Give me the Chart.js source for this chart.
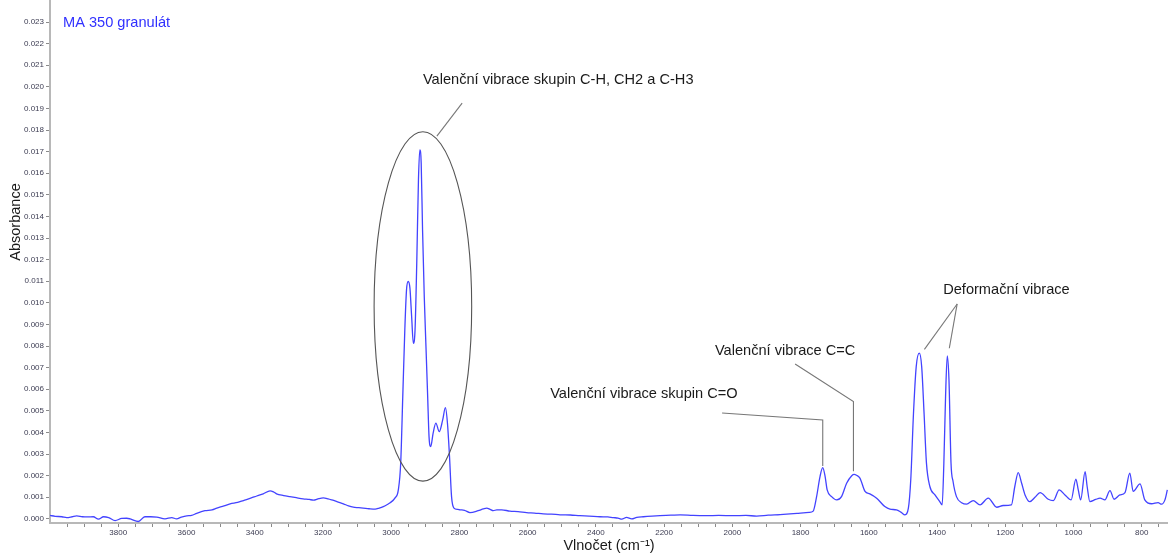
<!DOCTYPE html>
<html><head><meta charset="utf-8">
<script src="https://cdn.jsdelivr.net/npm/chart.js@4/dist/chart.umd.min.js"></script>
<style>html,body{margin:0;padding:0;background:#fff;}#wrap{width:1168px;height:555px;}</style>
</head><body><div id="wrap"><canvas id="c" width="1168" height="555"></canvas></div>
<script>
const wavenumbers = [
4000,3985,3965,3951,3935,3922,3905,3890,3873,3858,3843,3828,3809,3790,3775,3765,3741,3722,3705,3687,
3663,3643,3629,3615,3599,3585,3570,3546,3525,3511,3490,3472,3450,3433,3410,3394,3375,3355,3345,3336,
3315,3297,3278,3258,3240,3228,3212,3199,3185,3174,3155,3140,3125,3111,3095,3082,3065,3047,3035,3023,
3010,3003,2989,2979,2972,2966,2960,2955,2950,2945,2940,2935,2930,2925,2920,2916,2912,2908,2903,2898,
2893,2889,2884,2877,2869,2859,2849,2841,2835,2829,2823,2816,2805,2798,2785,2769,2745,2730,2720,2710,
2701,2690,2676,2652,2628,2603,2580,2554,2530,2505,2475,2447,2420,2388,2365,2349,2335,2324,2310,2295,
2280,2261,2235,2212,2180,2153,2115,2075,2040,1997,1960,1929,1895,1860,1831,1807,1792,1775,1763,1753,
1743,1735,1728,1722,1709,1694,1680,1665,1650,1643,1636,1626,1611,1597,1577,1553,1538,1519,1505,1494,
1484,1477,1469,1461,1452,1445,1438,1431,1421,1406,1392,1385,1380,1375,1370,1365,1359,1353,1343,1328,
1313,1294,1274,1250,1225,1206,1182,1172,1162,1152,1142,1128,1113,1098,1074,1059,1042,1025,1007,993,
986,979,966,960,952,935,922,908,893,881,864,849,835,825,805,791,771,752,742,732,725];
const absorbance = [
0.00016,0.00012,0.00010,0.00006,0.00010,0.00014,0.00010,0.00009,0.00010,-0.00001,0.00010,0.00006,-0.00008,0.00002,0.00003,0.00000,-0.00012,0.00010,0.00010,0.00008,
0.00000,0.00006,0.00000,0.00008,0.00014,0.00016,0.00026,0.00038,0.00042,0.00050,0.00060,0.00070,0.00076,0.00085,0.00097,0.00106,0.00116,0.00130,0.00125,0.00116,
0.00108,0.00103,0.00098,0.00093,0.00090,0.00087,0.00094,0.00097,0.00093,0.00088,0.00078,0.00070,0.00060,0.00054,0.00052,0.00050,0.00047,0.00045,0.00050,0.00057,
0.00068,0.00075,0.00096,0.00134,0.00260,0.00566,0.00875,0.01060,0.01099,0.01068,0.00937,0.00813,0.00875,0.01184,0.01570,0.01708,0.01647,0.01338,0.01029,0.00798,
0.00566,0.00381,0.00335,0.00397,0.00443,0.00404,0.00458,0.00515,0.00443,0.00290,0.00103,0.00050,0.00044,0.00042,0.00040,0.00029,0.00038,0.00046,0.00050,0.00044,
0.00038,0.00042,0.00042,0.00036,0.00034,0.00029,0.00027,0.00023,0.00022,0.00019,0.00018,0.00015,0.00013,0.00010,0.00009,0.00006,0.00004,-0.00001,0.00007,0.00000,
0.00007,0.00010,0.00013,0.00015,0.00017,0.00019,0.00016,0.00015,0.00016,0.00015,0.00016,0.00013,0.00017,0.00020,0.00023,0.00026,0.00028,0.00030,0.00036,0.00103,
0.00196,0.00237,0.00196,0.00134,0.00103,0.00088,0.00103,0.00165,0.00200,0.00206,0.00202,0.00189,0.00127,0.00116,0.00096,0.00057,0.00045,0.00042,0.00030,0.00019,
0.00050,0.00181,0.00489,0.00705,0.00767,0.00705,0.00489,0.00258,0.00150,0.00111,0.00080,0.00065,0.00258,0.00566,0.00755,0.00644,0.00258,0.00173,0.00103,0.00075,
0.00068,0.00085,0.00065,0.00096,0.00054,0.00062,0.00065,0.00150,0.00214,0.00165,0.00111,0.00080,0.00100,0.00122,0.00091,0.00085,0.00134,0.00111,0.00088,0.00184,
0.00134,0.00088,0.00219,0.00150,0.00080,0.00090,0.00096,0.00088,0.00131,0.00091,0.00111,0.00122,0.00212,0.00127,0.00162,0.00088,0.00070,0.00075,0.00068,0.00088,0.00134];

const yTickValues = [0,0.001,0.002,0.003,0.004,0.005,0.006,0.007,0.008,0.009,0.010,0.011,0.012,0.013,0.014,0.015,0.016,0.017,0.018,0.019,0.020,0.021,0.022,0.023];
const xTickValues = [];
for (let v = 3950; v >= 750; v -= 50) xTickValues.push(v);
const xLabelStep = 200;

const seriesLabel = 'MA 350 granulát';
const xTitle = 'Vlnočet (cm⁻¹)';
const yTitle = 'Absorbance';

// annotation texts and anchors in data units [wavenumber, absorbance]
const annotTexts = [
  {text: 'Valenční vibrace skupin C-H, CH2 a C-H3', at: [2907, 0.02032]},
  {text: 'Valenční vibrace C=C', at: [2051, 0.00777]},
  {text: 'Valenční vibrace skupin C=O', at: [2534, 0.00578]},
  {text: 'Deformační vibrace', at: [1382, 0.01060]}
];
const annotLines = [
  [[2866, 0.01772], [2792, 0.01925]],
  [[2030, 0.00490], [1735, 0.00458], [1735, 0.00245]],
  [[1816, 0.00717], [1645, 0.00543], [1645, 0.00220]],
  [[1341, 0.00995], [1437, 0.00785]],
  [[1341, 0.00995], [1364, 0.00790]]
];
const annotEllipse = {wnLeft: 3050, wnRight: 2764, aTop: 0.01792, aBottom: 0.00175};

const points = wavenumbers.map((w, i) => ({x: w, y: absorbance[i]}));

const annotPlugin = {
  id: 'annot',
  afterDatasetsDraw(chart) {
    const {ctx, scales: {x, y}, chartArea} = chart;
    ctx.save();
    const l = x.getPixelForValue(annotEllipse.wnLeft), r = x.getPixelForValue(annotEllipse.wnRight);
    const t = y.getPixelForValue(annotEllipse.aTop), b = y.getPixelForValue(annotEllipse.aBottom);
    ctx.strokeStyle = '#555';
    ctx.lineWidth = 1.1;
    ctx.beginPath();
    ctx.ellipse((l + r) / 2, (t + b) / 2, Math.abs(r - l) / 2, Math.abs(b - t) / 2, 0, 0, Math.PI * 2);
    ctx.stroke();
    ctx.strokeStyle = '#777';
    ctx.lineWidth = 1.1;
    annotLines.forEach(pts => {
      ctx.beginPath();
      pts.forEach((p, i) => {
        const px = x.getPixelForValue(p[0]), py = y.getPixelForValue(p[1]);
        if (i === 0) ctx.moveTo(px, py); else ctx.lineTo(px, py);
      });
      ctx.stroke();
    });
    ctx.fillStyle = '#1a1a1a';
    ctx.font = '14.6px "Liberation Sans", Arial, sans-serif';
    ctx.textAlign = 'left';
    ctx.textBaseline = 'middle';
    annotTexts.forEach(a => {
      ctx.fillText(a.text, x.getPixelForValue(a.at[0]), y.getPixelForValue(a.at[1]));
    });
    ctx.fillStyle = '#3030ff';
    ctx.font = '14.6px "Liberation Sans", Arial, sans-serif';
    ctx.fillText(seriesLabel, chartArea.left + 13, chartArea.top + 23);
    ctx.fillStyle = '#1a1a1a';
    ctx.font = '14.5px "Liberation Sans", Arial, sans-serif';
    ctx.translate(16, 222);
    ctx.rotate(-Math.PI / 2);
    ctx.textAlign = 'center';
    ctx.fillText(yTitle, 0, 0);
    ctx.restore();
  }
};

new Chart(document.getElementById('c'), {
  type: 'line',
  data: {datasets: [{
    label: seriesLabel,
    data: points,
    borderColor: '#4343ff',
    borderWidth: 1.3,
    pointRadius: 0,
    cubicInterpolationMode: 'monotone',
    fill: false
  }]},
  options: {
    responsive: false,
    devicePixelRatio: 1,
    animation: false,
    layout: {padding: 0},
    plugins: {legend: {display: false}, tooltip: {enabled: false}, title: {display: false}},
    scales: {
      x: {
        type: 'linear', reverse: true, min: 723, max: 4000,
        border: {color: '#b8b8b8', width: 2},
        grid: {drawOnChartArea: false, drawTicks: true, tickLength: 4, color: '#8a8a8a'},
        ticks: {autoSkip: false, maxRotation: 0, padding: 1, color: '#3c3c52',
          font: {size: 8, family: '"Liberation Sans", Arial, sans-serif'},
          callback: v => (v % xLabelStep === 0 ? String(v) : '')},
        afterBuildTicks: s => { s.ticks = xTickValues.map(v => ({value: v})); },
        afterFit: s => { s.height = 32; s.paddingLeft = 0; s.paddingRight = 0; },
        title: {display: true, text: xTitle, color: '#1a1a1a', padding: {top: 0, bottom: 0},
          font: {size: 14.5, family: '"Liberation Sans", Arial, sans-serif'}}
      },
      y: {
        type: 'linear', min: -0.00019, max: 0.02402,
        border: {color: '#b8b8b8', width: 2},
        grid: {drawOnChartArea: false, drawTicks: true, tickLength: 4, color: '#8a8a8a'},
        ticks: {padding: 2, color: '#3c3c52',
          font: {size: 8, family: '"Liberation Sans", Arial, sans-serif'},
          callback: v => Number(v).toFixed(3)},
        afterBuildTicks: s => { s.ticks = yTickValues.map(v => ({value: v})); },
        afterFit: s => { s.width = 50; s.paddingTop = 0; s.paddingBottom = 0; }
      }
    }
  },
  plugins: [annotPlugin]
});
</script>
</body></html>
